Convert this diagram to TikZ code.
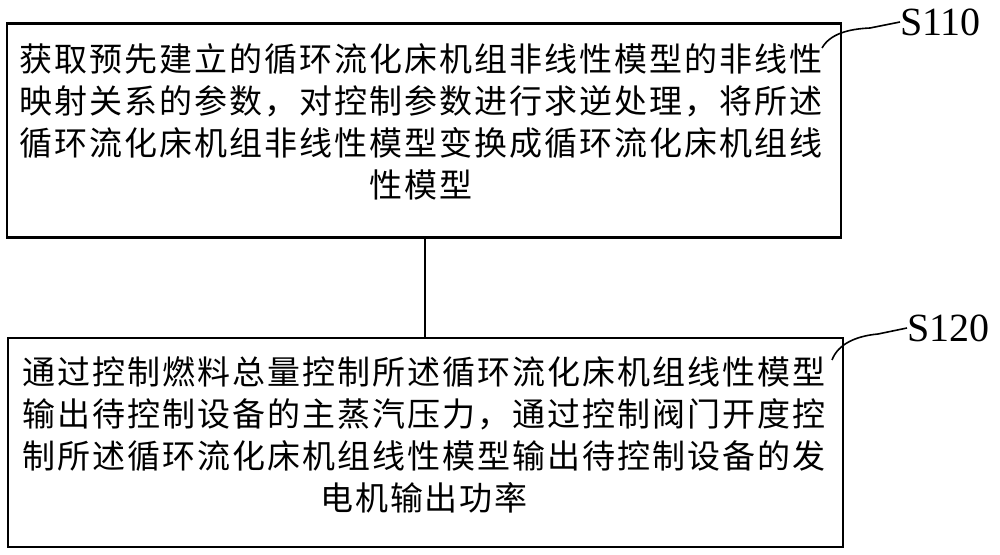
\documentclass[tikz,border=0pt]{standalone}
\usepackage{fontspec}
\setmainfont{Liberation Serif}
\newfontfamily\cjk[LetterSpace=6]{Noto Sans CJK SC}
\begin{document}
\begin{tikzpicture}[x=1pt,y=-1pt,
  stepbox/.style={draw=black,line width=2.2pt,inner sep=0pt,
    minimum width=834pt,minimum height=214pt},
  boxtext/.style={inner sep=0pt,font=\cjk\fontsize{33}{42}\selectfont},
  steplabel/.style={inner sep=0pt,font=\fontsize{40}{44}\selectfont},
  link/.style={line width=1.6pt},
  leader/.style={line width=1.6pt}]
\useasboundingbox[fill=white] (0,0) rectangle (1000,554);
\node[stepbox] (b1) at (424,130.5) {};
\node[stepbox,minimum width=835pt,minimum height=209pt] (b2) at (425.5,442.5) {};
\node[boxtext] (t1) at (421,126) {\begin{tabular}{@{}l@{}}
获取预先建立的循环流化床机组非线性模型的非线性\\
映射关系的参数，对控制参数进行求逆处理，将所述\\
循环流化床机组非线性模型变换成循环流化床机组线\\
\multicolumn{1}{@{}c@{}}{性模型}
\end{tabular}};
\node[boxtext] (t2) at (424,439) {\begin{tabular}{@{}l@{}}
通过控制燃料总量控制所述循环流化床机组线性模型\\
输出待控制设备的主蒸汽压力，通过控制阀门开度控\\
制所述循环流化床机组线性模型输出待控制设备的发\\
\multicolumn{1}{@{}c@{}}{电机输出功率}
\end{tabular}};
\draw[link] (b1.south -| 425,0) -- (b2.north -| 425,0);
\node[steplabel,anchor=west] (s1) at (900,22) {S110};
\node[steplabel,anchor=west] (s2) at (907,328) {S120};
\coordinate (l1) at (822,48);
\coordinate (l2) at (832,360);
\draw[leader] (l1) .. controls (830,34) and (848,29) .. (870,28) -- (s1.west);
\draw[leader] (l2) .. controls (838,344) and (856,336) .. (878,334) -- (s2.west);
\end{tikzpicture}
\end{document}
